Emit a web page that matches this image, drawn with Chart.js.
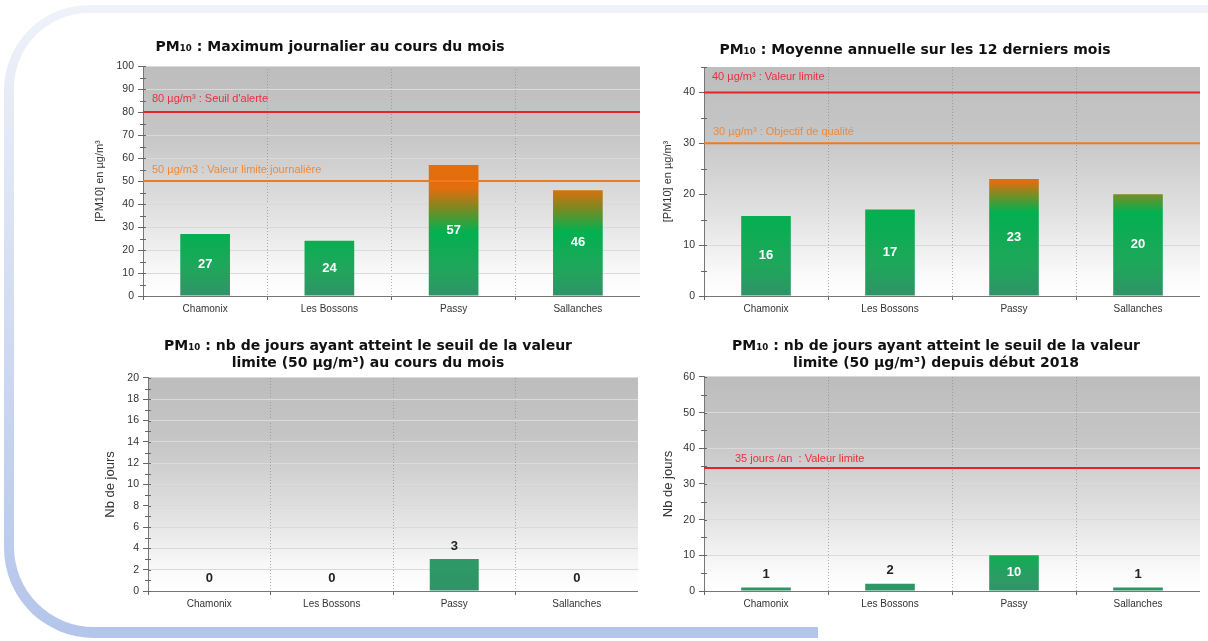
<!DOCTYPE html>
<html>
<head>
<meta charset="utf-8">
<script src="https://cdn.jsdelivr.net/npm/chart.js@4.4.0/dist/chart.umd.min.js"></script>
<style>
  html, body { margin: 0; padding: 0; width: 1208px; height: 641px; overflow: hidden; background: #fff; }
  .frame { position: absolute; left: 4px; top: 5px; width: 1300px; height: 633px; border-radius: 85px 0 0 90px; background: linear-gradient(#eff2f9, #b3c5ea); }
  .inner { position: absolute; left: 14px; top: 13px; width: 1300px; height: 614px; border-radius: 75px 0 0 80px; background: #fff; }
  .cover { position: absolute; left: 818px; top: 620px; width: 420px; height: 30px; background: #fff; }
  .box { position: absolute; }
</style>
</head>
<body>
<div class="frame"></div>
<div class="inner"></div>
<div class="cover"></div>

<div class="box" style="left:20px; top:39px; width:620px; height:281px;"><canvas id="chart1"></canvas></div>
<div class="box" style="left:630px; top:42px; width:570px; height:278px;"><canvas id="chart2"></canvas></div>
<div class="box" style="left:98px; top:338px; width:540px; height:277px;"><canvas id="chart3"></canvas></div>
<div class="box" style="left:652px; top:338px; width:548px; height:277px;"><canvas id="chart4"></canvas></div>

<script>
// data
const categories = ["Chamonix", "Les Bossons", "Passy", "Sallanches"];
const maxJournalier = [27, 24, 57, 46];
const moyenneAnnuelle = [15.7, 17, 23, 20];
const joursMois = [0, 0, 3, 0];
const joursAnnee = [1, 2, 10, 1];

const seuilsJournalier = [80, 50];
const seuilsJournalierTextes = ["80 µg/m³ : Seuil d'alerte", "50 µg/m3 : Valeur limite journalière"];
const seuilsAnnuels = [40, 30];
const seuilsAnnuelsTextes = ["40 µg/m³ : Valeur limite", "30 µg/m³ : Objectif de qualité"];
const seuilJours = [34.5];
const seuilJoursTextes = ["35 jours /an  : Valeur limite"];

const RED = "#e8222b";
const ORANGE = "#f07a1c";

// gradient of the bars follows the y value, not the bar
function barGradient(stops) {
  return (context) => {
    const chart = context.chart;
    if (!chart.chartArea) return stops[0][1];
    const y = chart.scales.y;
    const g = chart.ctx.createLinearGradient(0, y.getPixelForValue(0), 0, y.getPixelForValue(y.max));
    stops.forEach((s) => g.addColorStop(Math.min(1, s[0] / y.max), s[1]));
    return g;
  };
}

const decor = {
  id: "decor",
  beforeDraw(chart) {
    const a = chart.chartArea;
    const ctx = chart.ctx;
    const g = ctx.createLinearGradient(0, a.top, 0, a.bottom);
    g.addColorStop(0, "#bdbdbd");
    g.addColorStop(0.3, "#c6c6c6");
    g.addColorStop(0.65, "#e2e2e2");
    g.addColorStop(0.92, "#fbfbfb");
    g.addColorStop(1, "#ffffff");
    ctx.save();
    ctx.fillStyle = g;
    ctx.fillRect(a.left, a.top, a.right - a.left, a.bottom - a.top);
    ctx.restore();
  },
  afterDatasetsDraw(chart, args, opts) {
    const a = chart.chartArea;
    const ctx = chart.ctx;
    const y = chart.scales.y;

    // minor ticks on the y axis
    ctx.save();
    ctx.strokeStyle = "#666";
    ctx.lineWidth = 1;
    for (let v = 0; v <= y.max + 0.001; v += opts.minor) {
      const py = Math.round(y.getPixelForValue(v)) + 0.5;
      const major = Math.abs(v / opts.major - Math.round(v / opts.major)) < 0.001;
      ctx.beginPath();
      ctx.moveTo(a.left - (major ? 0 : 3), py);
      ctx.lineTo(a.left + 3, py);
      ctx.stroke();
    }
    ctx.restore();

    // threshold lines
    (opts.lines || []).forEach((l) => {
      const py = y.getPixelForValue(l.value);
      ctx.save();
      ctx.strokeStyle = l.color;
      ctx.lineWidth = 2;
      ctx.beginPath();
      ctx.moveTo(a.left, py);
      ctx.lineTo(a.right, py);
      ctx.stroke();
      ctx.fillStyle = l.textColor;
      ctx.font = "11px 'Liberation Sans'";
      ctx.textBaseline = "middle";
      ctx.fillText(l.text, a.left + l.dx, py - l.dy);
      ctx.restore();
    });

    // value labels
    const meta = chart.getDatasetMeta(0);
    const data = chart.data.datasets[0].data;
    ctx.save();
    ctx.font = "bold 13px 'Liberation Sans'";
    ctx.textAlign = "center";
    ctx.textBaseline = "middle";
    meta.data.forEach((bar, i) => {
      const h = bar.base - bar.y;
      const txt = String(Math.round(data[i]));
      if (h >= opts.insideMin) {
        ctx.fillStyle = "#ffffff";
        ctx.fillText(txt, bar.x, (bar.y + bar.base) / 2);
      } else {
        ctx.fillStyle = "#222222";
        ctx.fillText(txt, bar.x, bar.y - 13);
      }
    });
    ctx.restore();
  },
};

function makeChart(id, values, o) {
  const ctx = document.getElementById(id).getContext("2d");
  return new Chart(ctx, {
    type: "bar",
    data: {
      labels: categories,
      datasets: [
        {
          data: values,
          backgroundColor: barGradient(o.stops),
          barPercentage: 0.4,
          categoryPercentage: 1,
        },
      ],
    },
    options: {
      responsive: true,
      maintainAspectRatio: false,
      animation: false,
      layout: { padding: { left: o.padLeft || 0, right: 0, top: 0, bottom: 0 } },
      plugins: {
        legend: { display: false },
        tooltip: { enabled: false },
        title: {
          display: true,
          text: o.title,
          color: "#111",
          font: { family: "'DejaVu Sans'", size: 14, weight: "bold", lineHeight: o.titleLine },
          padding: { top: 0, bottom: o.titleGap },
        },
        decor: { lines: o.lines, minor: o.minor, major: o.step, insideMin: o.insideMin },
      },
      scales: {
        x: {
          grid: { offset: true, color: "rgba(140,140,140,0.7)", tickLength: 4, tickColor: "#666" },
          border: { color: "#777", dash: [1, 2] },
          ticks: { color: "#333", padding: 3, font: { family: "'Liberation Sans'", size: 10 } },
          afterFit: (s) => { s.height = 24; },
        },
        y: {
          min: 0,
          max: o.max,
          grid: { color: "#dadada", tickLength: 5, tickColor: "#666" },
          border: { color: "#777" },
          ticks: { stepSize: o.step, color: "#333", padding: 4, font: { family: "'Liberation Sans'", size: 10.5 } },
          title: { display: true, text: o.yTitle, color: "#333", padding: { top: o.yTitlePad, bottom: 0 }, font: o.yFont },
          afterBuildTicks: (s) => { s.ticks = s.ticks.filter((t) => Math.abs(t.value % o.step) < 0.001); },
          afterFit: (s) => { s.width = o.yWidth; },
        },
      },
    },
    plugins: [decor],
  });
}

const stopsMax = [[0, "#2f9467"], [12, "#1fa65c"], [28, "#03b04f"], [38, "#7a8a22"], [47, "#e36e0c"], [100, "#ea6c0a"]];
const stopsMoy = [[0, "#2f9467"], [6, "#1fa65c"], [16.5, "#03b04f"], [19.5, "#6a922a"], [22.5, "#e06e0e"], [45, "#ea6c0a"]];
const stopsJours = [[0, "#2f9467"], [3, "#2e9a66"], [10, "#12ac55"], [60, "#00b050"]];

let myChart1 = makeChart("chart1", maxJournalier, {
  title: "PM₁₀ : Maximum journalier au cours du mois",
  titleLine: 1.2, titleGap: 10.2,
  yWidth: 123, yTitlePad: 73.4,
  max: 100, step: 10, minor: 5,
  yTitle: "[PM10] en µg/m³", yFont: { family: "'Liberation Sans'", size: 11 },
  stops: stopsMax, insideMin: 0,
  lines: [
    { value: seuilsJournalier[0], text: seuilsJournalierTextes[0], color: RED, textColor: "#e83040", dx: 9, dy: 13 },
    { value: seuilsJournalier[1], text: seuilsJournalierTextes[1], color: ORANGE, textColor: "#ec8a3c", dx: 9, dy: 11 },
  ],
});

let myChart2 = makeChart("chart2", moyenneAnnuelle, {
  title: "PM₁₀ : Moyenne annuelle sur les 12 derniers mois",
  titleLine: 1.2, titleGap: 8.2,
  yWidth: 74, yTitlePad: 31.4,
  max: 45, step: 10, minor: 5,
  yTitle: "[PM10] en µg/m³", yFont: { family: "'Liberation Sans'", size: 11 },
  stops: stopsMoy, insideMin: 0,
  lines: [
    { value: seuilsAnnuels[0], text: seuilsAnnuelsTextes[0], color: RED, textColor: "#e83040", dx: 8, dy: 15 },
    { value: seuilsAnnuels[1], text: seuilsAnnuelsTextes[1], color: ORANGE, textColor: "#ec8a3c", dx: 9, dy: 11 },
  ],
});

let myChart3 = makeChart("chart3", joursMois, {
  title: ["PM₁₀ : nb de jours ayant atteint le seuil de la valeur", "limite (50 µg/m³) au cours du mois"],
  titleLine: 1.214, titleGap: 6,
  yWidth: 50, yTitlePad: 4.2,
  max: 20, step: 2, minor: 1,
  yTitle: "Nb de jours", yFont: { family: "'Liberation Sans'", size: 13 },
  stops: stopsJours, insideMin: 9999,
  lines: [],
});

let myChart4 = makeChart("chart4", joursAnnee, {
  title: ["PM₁₀ : nb de jours ayant atteint le seuil de la valeur", "limite (50 µg/m³) depuis début 2018"],
  titleLine: 1.214, titleGap: 5,
  padLeft: 20, yWidth: 32, yTitlePad: -11.8,
  max: 60, step: 10, minor: 5,
  yTitle: "Nb de jours", yFont: { family: "'Liberation Sans'", size: 13 },
  stops: stopsJours, insideMin: 34,
  lines: [
    { value: seuilJours[0], text: seuilJoursTextes[0], color: RED, textColor: "#e83040", dx: 31, dy: 9 },
  ],
});
</script>
</body>
</html>
